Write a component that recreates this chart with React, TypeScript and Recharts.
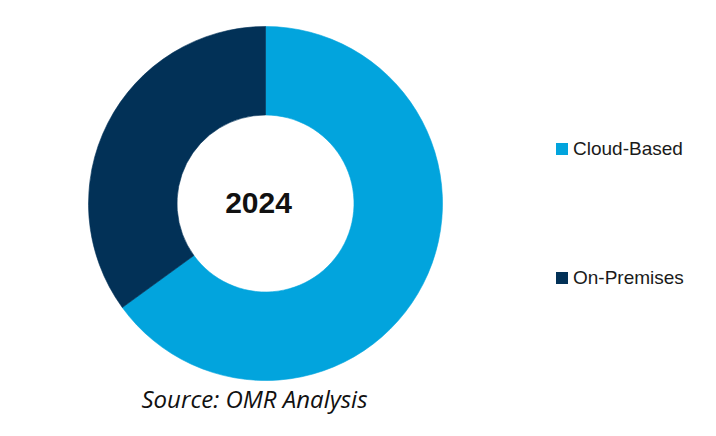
import React from 'react';
import { PieChart, Pie, Cell, Legend } from 'recharts';

const categories = ['Cloud-Based', 'On-Premises'];
const shares = [65, 35];
const colors = ['#02A4DD', '#023157'];
const centerLabel = '2024';
const sourceText = 'Source: OMR Analysis';

const data = categories.map((name, i) => ({ name, value: shares[i] }));

const renderLegend = (props: any) => {
  const { payload } = props;
  return (
    <div>
      {payload.map((entry: any, i: number) => (
        <div
          key={entry.value}
          style={{
            display: 'flex',
            alignItems: 'center',
            height: 20,
            marginBottom: i === 0 ? 109 : 0,
            fontFamily: '"Liberation Sans", Arial, sans-serif',
            fontSize: 19,
            color: '#1a1a1a',
          }}
        >
          <span
            style={{
              display: 'inline-block',
              width: 12,
              height: 12,
              background: entry.color,
              marginRight: 5,
            }}
          />
          <span>{entry.value}</span>
        </div>
      ))}
    </div>
  );
};

export default function App() {
  return (
    <div style={{ position: 'absolute', left: 0, top: 0, width: 716, height: 436, background: '#fff' }}>
      <PieChart width={716} height={436}>
        <Pie
          data={data}
          dataKey="value"
          nameKey="name"
          cx={260.5}
          cy={198.5}
          innerRadius={88.5}
          outerRadius={177}
          startAngle={90}
          endAngle={-270}
          isAnimationActive={false}
        >
          {data.map((d, i) => (
            <Cell key={d.name} fill={colors[i]} stroke={colors[i]} strokeWidth={0.6} />
          ))}
        </Pie>
        <Legend
          content={renderLegend}
          layout="vertical"
          wrapperStyle={{ position: 'absolute', left: 556, top: 139, width: 150 }}
        />
        <text
          x={258.5}
          y={202}
          textAnchor="middle"
          dominantBaseline="central"
          fontFamily='"Liberation Sans", Arial, sans-serif'
          fontWeight="bold"
          fontSize={30}
          fill="#111"
        >
          {centerLabel}
        </text>
        <text
          x={254.5}
          y={408}
          textAnchor="middle"
          fontFamily='"Open Sans", sans-serif'
          fontStyle="italic"
          fontSize={24}
          fill="#111"
        >
          {sourceText}
        </text>
      </PieChart>
    </div>
  );
}
